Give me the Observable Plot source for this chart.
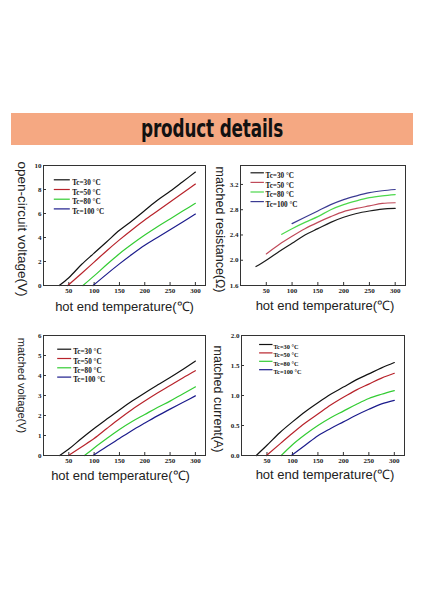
<!DOCTYPE html>
<html>
<head>
<meta charset="utf-8">
<script src="https://cdn.jsdelivr.net/npm/d3@7"></script>
<script src="https://cdn.jsdelivr.net/npm/@observablehq/plot@0.6"></script>
<style>
  body { margin: 0; background: #fff; }
  #page { position: relative; width: 424px; height: 600px; overflow: hidden; background: #fff; }
  #banner { position: absolute; left: 11px; top: 113px; width: 402px; height: 32px; background: #f5a882; text-align: center; }
  #banner span { display: inline-block; font-family: "DejaVu Sans Condensed", "DejaVu Sans", sans-serif; font-weight: bold;
    font-size: 24px; line-height: 32px; color: #111; transform: scaleX(0.78) scaleY(1.05); letter-spacing: -0.2px; }
  .cell { position: absolute; }
</style>
</head>
<body>
<div id="page">
  <div id="banner"><span>product details</span></div>
  <div class="cell" id="c1" style="left:0px;top:150px"></div>
  <div class="cell" id="c2" style="left:206px;top:150px"></div>
  <div class="cell" id="c3" style="left:0px;top:325px"></div>
  <div class="cell" id="c4" style="left:206px;top:325px"></div>
</div>
<script>
// legend labels and shared axis
const tcLabels = ['Tc=30 °C', 'Tc=50 °C', 'Tc=80 °C', 'Tc=100 °C']
const xTicks = [50, 100, 150, 200, 250, 300]
const xLabel = 'hot end temperature(℃)'

// open-circuit voltage (V) vs hot end temperature
const voc30 = [[31,0],[50,0.65],[75,1.75],[100,2.7],[125,3.65],[150,4.6],[175,5.4],[200,6.25],[225,7.1],[250,7.85],[275,8.65],[300,9.45]]
const voc50 = [[48,0],[75,1.0],[100,1.95],[125,2.9],[150,3.8],[175,4.65],[200,5.45],[225,6.2],[250,6.95],[275,7.7],[300,8.45]]
const voc80 = [[78,0],[100,0.8],[125,1.75],[150,2.65],[175,3.45],[200,4.2],[225,4.9],[250,5.55],[275,6.2],[300,6.85]]
const voc100 = [[98,0],[125,0.95],[150,1.8],[175,2.6],[200,3.35],[225,4.0],[250,4.65],[275,5.3],[300,5.95]]
const vocTicks = [0, 2, 4, 6, 8, 10]

// matched resistance (Ω)
const res30 = [[30,1.9],[50,2.0],[75,2.14],[100,2.27],[125,2.4],[150,2.5],[175,2.6],[200,2.68],[225,2.74],[250,2.78],[275,2.81],[300,2.82]]
const res50 = [[50,2.1],[75,2.25],[100,2.38],[125,2.5],[150,2.6],[175,2.69],[200,2.77],[225,2.82],[250,2.86],[275,2.9],[300,2.91]]
const res80 = [[80,2.41],[100,2.5],[125,2.6],[150,2.69],[175,2.8],[200,2.88],[225,2.94],[250,2.99],[275,3.02],[300,3.04]]
const res100 = [[100,2.58],[125,2.68],[150,2.78],[175,2.88],[200,2.96],[225,3.02],[250,3.07],[275,3.1],[300,3.12]]
const resTicks = [1.6, 2.0, 2.4, 2.8, 3.2]

// matched voltage (V)
const mv30 = [[32,0],[50,0.32],[75,0.85],[100,1.35],[125,1.82],[150,2.28],[175,2.72],[200,3.13],[225,3.52],[250,3.9],[275,4.3],[300,4.72]]
const mv50 = [[49,0],[75,0.43],[100,0.85],[125,1.35],[150,1.84],[175,2.3],[200,2.72],[225,3.12],[250,3.5],[275,3.88],[300,4.24]]
const mv80 = [[81,0],[100,0.38],[125,0.85],[150,1.3],[175,1.7],[200,2.05],[225,2.4],[250,2.72],[275,3.08],[300,3.43]]
const mv100 = [[98,0],[125,0.45],[150,0.85],[175,1.25],[200,1.62],[225,1.98],[250,2.32],[275,2.65],[300,2.98]]
const mvTicks = [0, 1, 2, 3, 4, 5, 6]

// matched current (A)
const mc30 = [[29,0],[50,0.17],[75,0.38],[100,0.56],[125,0.73],[150,0.88],[175,1.02],[200,1.14],[225,1.26],[250,1.36],[275,1.46],[300,1.55]]
const mc50 = [[49,0],[75,0.19],[100,0.37],[125,0.54],[150,0.69],[175,0.84],[200,0.97],[225,1.09],[250,1.19],[275,1.29],[300,1.37]]
const mc80 = [[78,0],[100,0.18],[125,0.35],[150,0.5],[175,0.63],[200,0.74],[225,0.85],[250,0.95],[275,1.02],[300,1.08]]
const mc100 = [[98,0],[125,0.17],[150,0.33],[175,0.45],[200,0.56],[225,0.67],[250,0.77],[275,0.86],[300,0.92]]
const mcTicks = [0, 0.5, 1.0, 1.5, 2.0]

const serif = 'Liberation Serif, Times New Roman, serif'
const sans = 'Liberation Sans, Arial, sans-serif'

function makeChart(o) {
  let rows = o.series.flatMap((s, i) => s.map(([x, y]) => ({x, y, tc: tcLabels[i]})))
  let lg = o.legend

  // short stroke used as legend key
  let keyLine = {draw(ctx) { ctx.moveTo(-lg.len, 0); ctx.lineTo(lg.len, 0) }}

  let legendMarks = tcLabels.flatMap((t, i) => [
    Plot.dot([t], {frameAnchor: 'top-left', dx: lg.lineX, dy: lg.top + i * lg.step,
      symbol: keyLine, stroke: o.colors[i], fill: 'none', strokeWidth: 1.2}),
    Plot.text([t], {frameAnchor: 'top-left', dx: lg.textX, dy: lg.top + i * lg.step, text: d => d,
      textAnchor: 'start', fontFamily: serif, fontWeight: 'bold', fontSize: lg.size, fill: '#111'})
  ])

  return Plot.plot({
    width: o.width,
    height: 175,
    marginLeft: o.m[0], marginRight: o.m[1], marginTop: o.m[2], marginBottom: o.m[3],
    style: {background: 'transparent', overflow: 'visible'},
    x: {domain: [0, 320]},
    y: {domain: o.yDomain},
    color: {domain: tcLabels, range: o.colors},
    marks: [
      Plot.axisX({ticks: xTicks, tickSize: -3, tickPadding: 6, label: null,
        fontFamily: serif, fontWeight: 'bold', fontSize: 7, fill: '#222', stroke: '#333'}),
      Plot.axisY({ticks: o.yTicks, tickSize: -3, tickPadding: 5, label: null, tickFormat: o.yFormat,
        fontFamily: serif, fontWeight: 'bold', fontSize: 7, fill: '#222', stroke: '#333'}),
      Plot.line(rows, {x: 'x', y: 'y', z: 'tc', stroke: 'tc', curve: 'monotone-x', strokeWidth: 1.2}),
      Plot.frame({stroke: '#333', strokeWidth: 1}),
      ...legendMarks,
      Plot.text([xLabel], {frameAnchor: 'bottom', dy: o.xLab[1], dx: o.xLab[0], text: d => d,
        fontFamily: sans, fontSize: 13, fill: '#222'}),
      Plot.text([o.yLabel], {frameAnchor: 'left', textAnchor: 'middle', rotate: 90,
        dx: o.yLab[0], dy: o.yLab[1], text: d => d,
        fontFamily: sans, fontSize: o.yLab[2], fill: '#222'})
    ]
  })
}

const darkSet = ['#111111', '#b8232b', '#33cc33', '#1c1c8c']
const softSet = ['#1a1a1a', '#c04a5a', '#4cd84c', '#3b3b92']

d3.select('#c1').append(() => makeChart({
  series: [voc30, voc50, voc80, voc100], colors: darkSet,
  yDomain: [0, 10], yTicks: vocTicks, yFormat: 'd',
  yLabel: 'open-circuit voltage(V)', width: 212, m: [43, 7, 15, 40],
  xLab: [0, 25], yLab: [-21, 3.5, 13.5],
  legend: {lineX: 18.3, textX: 28.7, top: 14.3, step: 9.7, len: 8, size: 7.2}
}))

d3.select('#c2').append(() => makeChart({
  series: [res30, res50, res80, res100], colors: softSet,
  yDomain: [1.6, 3.5], yTicks: resTicks, yFormat: '.1f',
  yLabel: 'matched resistance(Ω)', width: 218, m: [34, 19, 15, 40],
  xLab: [2, 24], yLab: [-21, 4, 12.5],
  legend: {lineX: 16.7, textX: 25, top: 7.3, step: 9.6, len: 6.7, size: 7.2}
}))

d3.select('#c3').append(() => makeChart({
  series: [mv30, mv50, mv80, mv100], colors: darkSet,
  yDomain: [0, 6], yTicks: mvTicks, yFormat: 'd',
  yLabel: 'matched voltage(V)', width: 212, m: [43, 7, 10, 45],
  xLab: [-4, 24], yLab: [-21.5, -10, 11],
  legend: {lineX: 20.7, textX: 29.7, top: 13.7, step: 9.3, len: 7, size: 7.2}
}))

d3.select('#c4').append(() => makeChart({
  series: [mc30, mc50, mc80, mc100], colors: darkSet,
  yDomain: [0, 2], yTicks: mcTicks, yFormat: '.1f',
  yLabel: 'matched current(A)', width: 218, m: [35, 20, 10, 45],
  xLab: [2, 23], yLab: [-24, 3.5, 12.5],
  legend: {lineX: 24.3, textX: 32, top: 9, step: 8.4, len: 6.7, size: 6.3}
}))
</script>
</body>
</html>
